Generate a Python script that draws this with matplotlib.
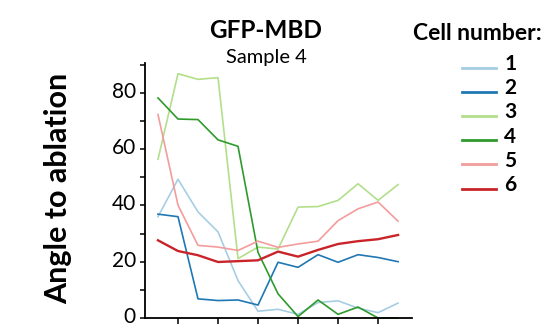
import numpy as np
import matplotlib
matplotlib.use("Agg")
import matplotlib.pyplot as plt
from matplotlib.legend_handler import HandlerLine2D
from matplotlib.transforms import ScaledTranslation

plt.rcParams["font.family"] = ["Lato", "DejaVu Sans"]

# time points (frames) and angle to ablation for each cell
frames = list(range(13))
cell1 = [36, 49.3, 37.7, 30.6, 13.3, 2.4, 3.1, 1.3, 5.5, 6.1, 3.5, 1.9, 5.3]
cell2 = [36.9, 36, 6.8, 6.2, 6.4, 4.6, 19.8, 18, 22.5, 19.8, 22.5, 21.5, 20]
cell3 = [56.4, 86.8, 84.8, 85.4, 21.1, 25.2, 24.5, 39.4, 39.6, 41.8, 47.7, 41.8, 47.4]
cell4 = [78.2, 70.7, 70.5, 63.3, 61, 23.3, 8.6, 0.5, 6.4, 1.3, 3.9, 0, 0]
cell5 = [72.3, 40.1, 25.8, 25.2, 24, 27.3, 25.1, 26.3, 27.3, 34.6, 38.8, 41.2, 34.4]
cell6 = [27.6, 23.8, 22.3, 19.9, 20.2, 20.5, 23.6, 21.8, 24.2, 26.3, 27.3, 28, 29.5]

cells = [cell1, cell2, cell3, cell4, cell5, cell6]
labels = ["1", "2", "3", "4", "5", "6"]
colors = ["#a6cee3", "#1f78b4", "#b2df8a", "#2f9a2c", "#f39c9b", "#c8242a"]
widths = [1.2, 1.2, 1.2, 1.2, 1.2, 1.7]
yticks = [0, 20, 40, 60, 80]


class LowLine(HandlerLine2D):
    # put the legend line near the baseline of the number, like the original
    def create_artists(self, legend, orig_handle, xdescent, ydescent,
                       width, height, fontsize, trans):
        arts = super().create_artists(legend, orig_handle, xdescent, ydescent,
                                      width, height, fontsize, trans)
        for a in arts:
            a.set_ydata(np.array(a.get_ydata()) - 3.5)
        return arts


fig = plt.figure(figsize=(5.57, 3.28), dpi=100)
ax = fig.add_axes([0.2603, 0.0305, 0.4788, 0.7765])

lines = []
for vals, lab, c, lw in zip(cells, labels, colors, widths):
    ln, = ax.plot(frames, vals, color=c, lw=lw, label=lab, clip_on=False)
    lines.append(ln)

ax.set_xlim(-0.65, 12.68)
ax.set_ylim(0, 90.5)
ax.set_xticks([1, 3, 5, 7, 9, 11])
ax.set_xticklabels([])
ax.set_yticks(yticks)
ax.set_yticks([10, 30, 50, 70, 90], minor=True)
ax.tick_params(axis="y", which="both", direction="out", length=3.5, width=1.1,
               labelsize=15, pad=3)
ax.tick_params(axis="x", direction="out", length=4, width=1.1)
for s in ["top", "right"]:
    ax.spines[s].set_visible(False)
for s in ["left", "bottom"]:
    ax.spines[s].set_linewidth(1.3)

# labels sit a touch above their ticks in the original
shift = ScaledTranslation(0, 3 / 100, fig.dpi_scale_trans)
for lbl in ax.get_yticklabels():
    lbl.set_transform(lbl.get_transform() + shift)

fig.text(0.104, 0.427, "Angle to ablation", rotation=90, ha="center", va="center",
         fontsize=22, fontweight="bold")
fig.text(0.476, 0.883, "GFP-MBD", ha="center", va="baseline",
         fontsize=17.5, fontweight="bold")
fig.text(0.478, 0.807, "Sample 4", ha="center", va="baseline", fontsize=14.5)
fig.text(0.741, 0.878, "Cell number:", ha="left", va="baseline",
         fontsize=16.5, fontweight="bold")

leg = fig.legend(handles=lines, loc="upper left", bbox_to_anchor=(0.829, 0.835),
                 frameon=False, prop={"weight": "bold", "size": 15},
                 handlelength=1.65, handletextpad=0.4, labelspacing=0.2,
                 borderpad=0, borderaxespad=0,
                 handler_map={matplotlib.lines.Line2D: LowLine()})
for ln in leg.get_lines():
    ln.set_linewidth(2.0)

fig.savefig("out.png", dpi=100)
